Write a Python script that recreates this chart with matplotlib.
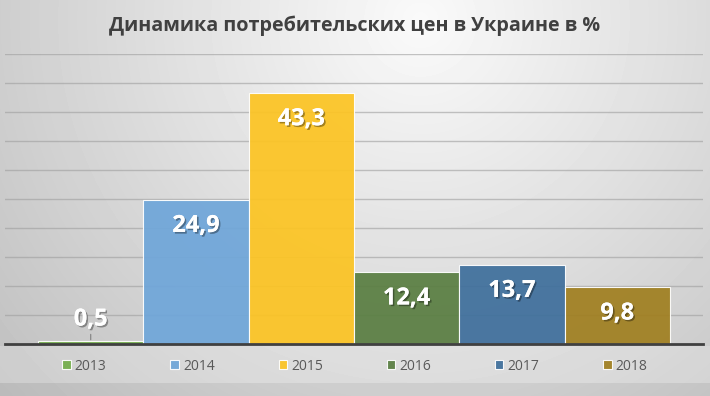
import numpy as np
import matplotlib
matplotlib.use("Agg")
import matplotlib.pyplot as plt
import matplotlib.patheffects as pe
from matplotlib.patches import Rectangle

plt.rcParams['font.family'] = ['Open Sans', 'DejaVu Sans']

years = ['2013', '2014', '2015', '2016', '2017', '2018']
values = [0.5, 24.9, 43.3, 12.4, 13.7, 9.8]
labels = ['0,5', '24,9', '43,3', '12,4', '13,7', '9,8']
colors = ['#73AE4B', '#6FA6D9', '#FCC423', '#5A7E42', '#3F6F9C', '#A07F20']
title = 'Динамика потребительских цен в Украине в %'

fig = plt.figure(figsize=(7.10, 3.96), dpi=100)

# background: soft radial gradient like the slide
bg = fig.add_axes([0, 0, 1, 1], zorder=-10)
yy, xx = np.mgrid[0:396, 0:710]
r = np.hypot((xx - 420) / 710.0, (yy - 20) / 710.0)
shade = np.clip(0.98 - 0.29 * r, 0, 1)
bg.imshow(shade, cmap='gray', vmin=0, vmax=1, aspect='auto', extent=(0, 710, 396, 0))
bg.add_patch(Rectangle((0, 346), 710, 37, color='white', alpha=0.2, lw=0))
bg.add_patch(Rectangle((0, 383), 710, 13, color='black', alpha=0.025, lw=0))
bg.set_xlim(0, 710)
bg.set_ylim(396, 0)
bg.axis('off')

ax = fig.add_axes([5 / 710, 1 - 344 / 396, 698 / 710, 290 / 396])
ax.patch.set_alpha(0)
x = np.arange(len(years))
bars = ax.bar(x, values, width=1.0, color=colors, edgecolor='white',
              linewidth=0.8, alpha=0.93, zorder=2, label=years)

ax.set_xlim(-0.5 - 0.314, len(years) - 0.5 + 0.314)
ax.set_ylim(0, 50)
ax.set_yticks(np.arange(5, 51, 5))
ax.yaxis.grid(True, color='#9E9E9E', linewidth=1, alpha=0.6, zorder=1)
ax.set_axisbelow(True)
ax.set_xticks([])
ax.tick_params(axis='y', length=0, labelleft=False)
for s in ['top', 'left', 'right']:
    ax.spines[s].set_visible(False)
ax.spines['bottom'].set_color('#404040')
ax.spines['bottom'].set_linewidth(2)
ax.spines['bottom'].set_zorder(3)

shadow = [pe.withSimplePatchShadow(offset=(1.2, -1.2), shadow_rgbFace='black', alpha=0.35), pe.Normal()]
for xi, v, lab in zip(x, values, labels):
    if v < 5:
        t = ax.annotate(lab, (xi, v), xytext=(0, 15.5), textcoords='offset points',
                        ha='center', va='center', color='white', fontsize=17,
                        fontweight='bold', zorder=5,
                        arrowprops=dict(arrowstyle='-', color='#7F7F7F', lw=0.8,
                                        shrinkA=8, shrinkB=1))
    else:
        t = ax.annotate(lab, (xi, v), xytext=(0, -19), textcoords='offset points',
                        ha='center', va='center', color='white', fontsize=17,
                        fontweight='bold', zorder=5)
    t.set_path_effects(shadow)

fig.text(0.499, 1 - 26 / 396, title, ha='center', va='center', fontsize=14.2,
         fontweight='bold', color='#404040')

leg = fig.legend(handles=list(bars), labels=years, loc='center',
                 bbox_to_anchor=(0.5, 1 - 366 / 396), ncol=6, frameon=False,
                 fontsize=10, handlelength=0.6, handleheight=0.6,
                 handletextpad=0.3, columnspacing=4.6)
for txt in leg.get_texts():
    txt.set_color('#595959')

fig.savefig('out.png', dpi=100)
